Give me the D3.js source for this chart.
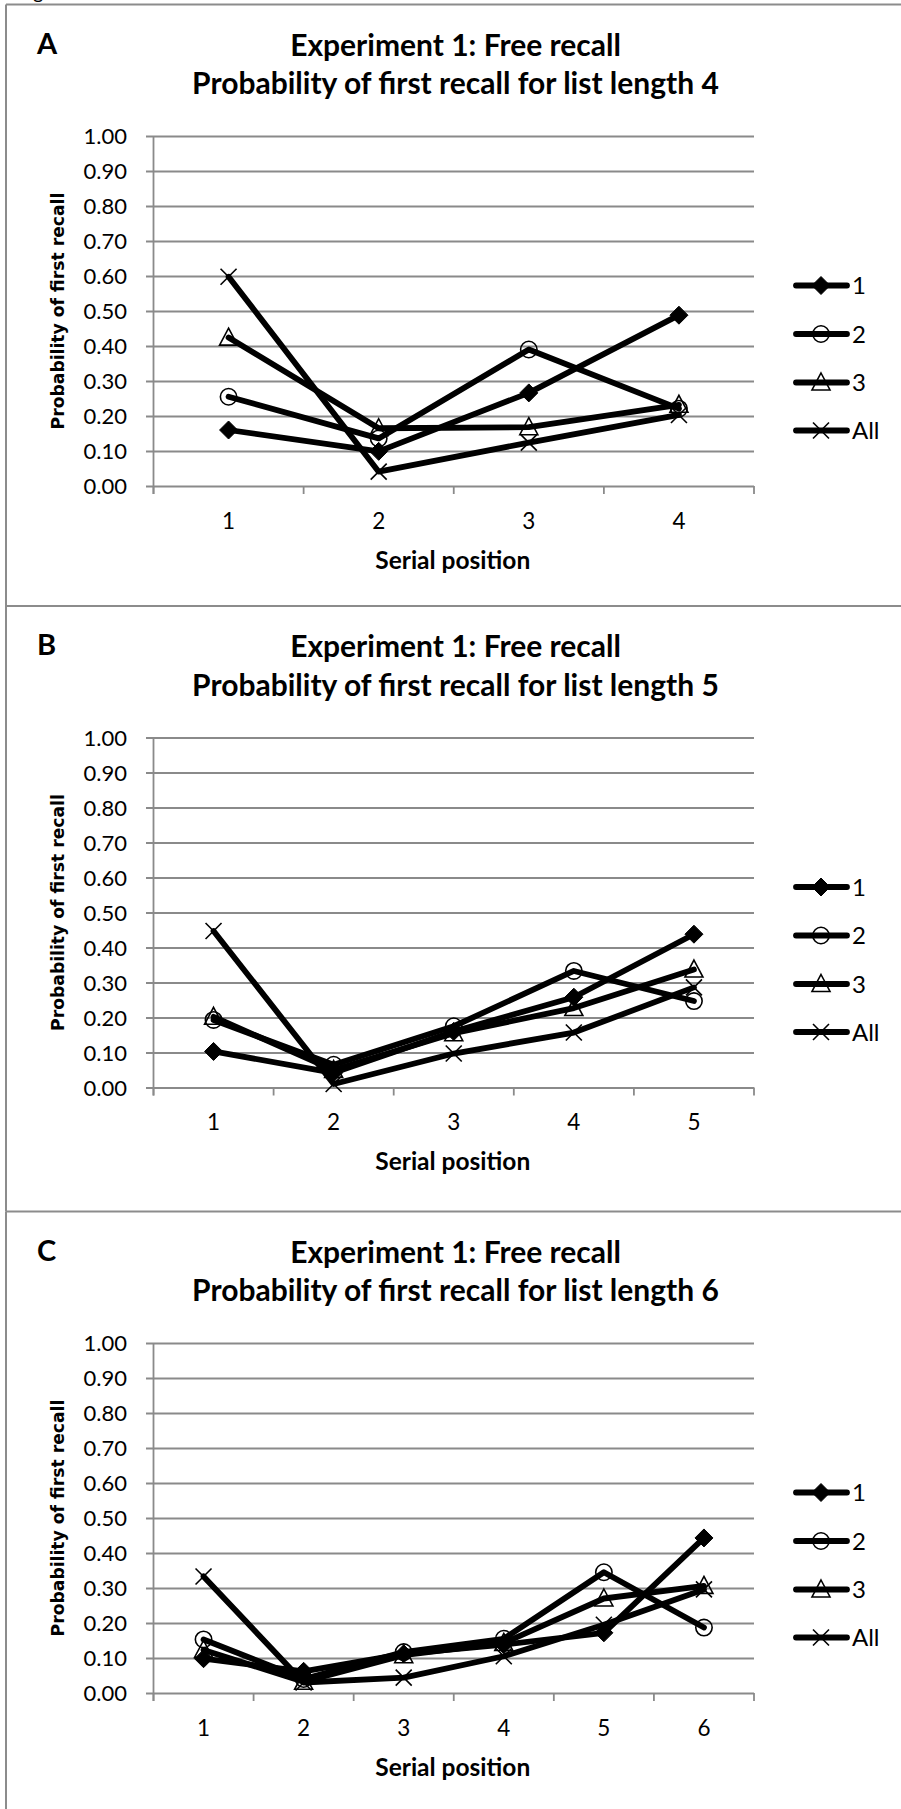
<!DOCTYPE html>
<html>
<head>
<meta charset="utf-8">
<script src="https://cdn.jsdelivr.net/npm/d3@7"></script>
<style>
  html, body { margin: 0; padding: 0; background: #fff; }
  svg { display: block; }
</style>
</head>
<body>
<svg id="chart" width="901" height="1809"></svg>
<script>
// ---------------- DATA ----------------
const panelLetters = ["A", "B", "C"];
const titleLine1 = "Experiment 1: Free recall";
const titleLine2 = [
  "Probability of first recall for list length 4",
  "Probability of first recall for list length 5",
  "Probability of first recall for list length 6"
];
const xAxisTitle = "Serial position";
const yAxisTitle = "Probability of first recall";
const yTicks = [0, 0.1, 0.2, 0.3, 0.4, 0.5, 0.6, 0.7, 0.8, 0.9, 1.0];
const seriesNames = ["1", "2", "3", "All"];

const positionsA = [1, 2, 3, 4];
const a1   = [0.160, 0.099, 0.266, 0.488];
const a2   = [0.255, 0.136, 0.390, 0.221];
const a3   = [0.424, 0.165, 0.168, 0.232];
const aAll = [0.598, 0.041, 0.124, 0.203];

const positionsB = [1, 2, 3, 4, 5];
const b1   = [0.103, 0.042, 0.160, 0.258, 0.438];
const b2   = [0.193, 0.065, 0.175, 0.333, 0.247];
const b3   = [0.202, 0.050, 0.155, 0.227, 0.337];
const bAll = [0.447, 0.010, 0.097, 0.157, 0.286];

const positionsC = [1, 2, 3, 4, 5, 6];
const c1   = [0.098, 0.062, 0.112, 0.138, 0.172, 0.443];
const c2   = [0.153, 0.040, 0.117, 0.155, 0.345, 0.187];
const c3   = [0.123, 0.032, 0.108, 0.143, 0.270, 0.306];
const cAll = [0.333, 0.030, 0.044, 0.105, 0.195, 0.296];

const panels = [
  { letter: panelLetters[0], title2: titleLine2[0], positions: positionsA, series: [a1, a2, a3, aAll] },
  { letter: panelLetters[1], title2: titleLine2[1], positions: positionsB, series: [b1, b2, b3, bAll] },
  { letter: panelLetters[2], title2: titleLine2[2], positions: positionsC, series: [c1, c2, c3, cAll] }
];

// ---------------- LAYOUT ----------------
const panelTops = [4.5, 606, 1211.5];
const W = 901, H = 1809;
const plotLeft = 153.5, plotRight = 754;
const plotTopRel = 131.5, plotBottomRel = 481.5;
const gridColor = "#8a8a8a";
const borderColor = "#8c8c8c";
const markerTypes = ["diamond", "circle", "triangle", "x"];
const FONT = "Lato, 'Open Sans', sans-serif";

const svg = d3.select("#chart");

// caption text above the figure, cut at the top edge as in the source
svg.append("text")
  .attr("x", 17).attr("y", -1)
  .attr("font-family", FONT).attr("font-size", 20)
  .attr("fill", "#000")
  .text("Figure");

function markerPath(type) {
  switch (type) {
    case "diamond": return "M0,-9L9,0L0,9L-9,0Z";
    case "circle": { const p = d3.path(); p.arc(0, 0, 8.2, 0, 2 * Math.PI); return p.toString(); }
    case "triangle": return "M0,-9.5L9,7.5L-9,7.5Z";
    case "x": return "M-8,-8L8,8M-8,8L8,-8";
  }
}
function drawMarker(g, type, x, y) {
  const m = g.append("path")
    .attr("d", markerPath(type))
    .attr("transform", `translate(${x},${y})`)
    .attr("stroke", "#000");
  if (type === "diamond") {
    m.attr("fill", "#000").attr("stroke-width", 1);
  } else {
    m.attr("fill", "none").attr("stroke-width", 1.6);
  }
}

panels.forEach((p, pi) => {
  const top = panelTops[pi];
  const bottom = pi < panels.length - 1 ? panelTops[pi + 1] : H + 5;
  const g = svg.append("g").attr("transform", `translate(0,${top})`);

  // panel border (top + left)
  g.append("line").attr("x1", 6).attr("x2", W + 5).attr("y1", 0).attr("y2", 0)
    .attr("stroke", borderColor).attr("stroke-width", 2);
  g.append("line").attr("x1", 6).attr("x2", 6).attr("y1", 0).attr("y2", bottom - top)
    .attr("stroke", borderColor).attr("stroke-width", 2);

  // letter
  g.append("text").attr("x", 37).attr("y", 49)
    .attr("font-family", FONT).attr("font-weight", 700).attr("font-size", 29)
    .text(p.letter);

  // titles
  const cx = 455.5;
  g.append("text").attr("x", cx).attr("y", 51).attr("text-anchor", "middle")
    .attr("font-family", FONT).attr("font-weight", 700).attr("font-size", 30)
    .text(titleLine1);
  g.append("text").attr("x", cx).attr("y", 89.5).attr("text-anchor", "middle")
    .attr("font-family", FONT).attr("font-weight", 700).attr("font-size", 30)
    .text(p.title2);

  // scales
  const x = d3.scaleBand().domain(p.positions).range([plotLeft, plotRight]).padding(0);
  const y = d3.scaleLinear().domain([0, 1]).range([plotBottomRel, plotTopRel]);

  // gridlines + y ticks
  const yAxis = d3.axisLeft(y).tickValues(yTicks).tickFormat(d3.format(".2f"))
    .tickSize(-(plotRight - plotLeft)).tickPadding(26.5);
  const ya = g.append("g").attr("transform", `translate(${plotLeft},0)`).call(yAxis);
  ya.select(".domain").remove();
  ya.selectAll(".tick line").attr("stroke", gridColor).attr("stroke-width", 1.8)
    .attr("x1", -7.5);
  ya.selectAll(".tick text")
    .attr("font-family", FONT).attr("font-size", 22).attr("fill", "#000")
    .attr("dy", "0.36em");

  // vertical axis line
  g.append("line").attr("x1", plotLeft).attr("x2", plotLeft)
    .attr("y1", plotTopRel).attr("y2", plotBottomRel + 8)
    .attr("stroke", gridColor).attr("stroke-width", 1.8);

  // x-axis ticks at category boundaries
  const bounds = p.positions.map(d => x(d)).concat([plotRight]);
  g.selectAll(".xtick").data(bounds).enter().append("line")
    .attr("x1", d => d).attr("x2", d => d)
    .attr("y1", plotBottomRel).attr("y2", plotBottomRel + 8)
    .attr("stroke", gridColor).attr("stroke-width", 1.8);

  // x labels
  g.selectAll(".xlab").data(p.positions).enter().append("text")
    .attr("x", d => x(d) + x.bandwidth() / 2).attr("y", 524)
    .attr("text-anchor", "middle")
    .attr("font-family", FONT).attr("font-size", 22.5)
    .text(d => d);

  // axis titles
  g.append("text").attr("x", (plotLeft + plotRight) / 2 - 1).attr("y", 564)
    .attr("text-anchor", "middle")
    .attr("font-family", FONT).attr("font-weight", 700).attr("font-size", 24.5)
    .text(xAxisTitle);
  g.append("text")
    .attr("transform", `translate(57.5,${(plotTopRel + plotBottomRel) / 2}) rotate(-90)`)
    .attr("text-anchor", "middle").attr("dy", "0.36em")
    .attr("font-family", "DejaVu Sans, sans-serif").attr("font-weight", 700).attr("font-size", 17.2)
    .text(yAxisTitle);

  // lines
  const line = d3.line()
    .x((d, i) => x(p.positions[i]) + x.bandwidth() / 2)
    .y(d => y(d));
  p.series.forEach((s) => {
    g.append("path").datum(s).attr("d", line)
      .attr("fill", "none").attr("stroke", "#000").attr("stroke-width", 5.8)
      .attr("stroke-linejoin", "round").attr("stroke-linecap", "round");
  });
  // markers
  p.series.forEach((s, si) => {
    s.forEach((v, i) => drawMarker(g, markerTypes[si], x(p.positions[i]) + x.bandwidth() / 2, y(v)));
  });

  // legend
  const legendY = [281, 329.5, 378, 426];
  seriesNames.forEach((name, si) => {
    const ly = legendY[si];
    g.append("line").attr("x1", 796).attr("x2", 847).attr("y1", ly).attr("y2", ly)
      .attr("stroke", "#000").attr("stroke-width", 5.8).attr("stroke-linecap", "round");
    drawMarker(g, markerTypes[si], 821, ly);
    g.append("text").attr("x", 852).attr("y", ly).attr("dy", "0.36em")
      .attr("font-family", FONT).attr("font-size", 24)
      .text(name);
  });
});
</script>
</body>
</html>
